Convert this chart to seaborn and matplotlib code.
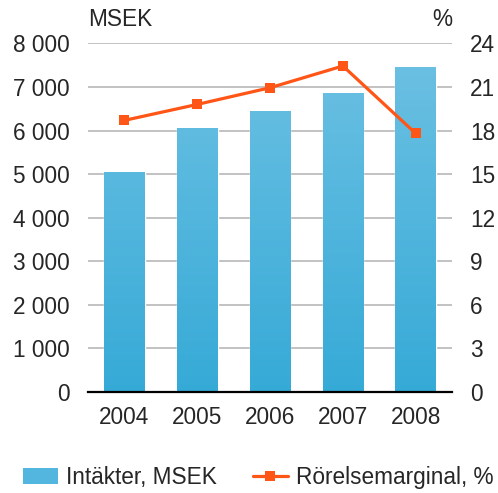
import numpy as np
import matplotlib
matplotlib.use('Agg')
import matplotlib.pyplot as plt
import seaborn as sns
from matplotlib.patches import Patch
from matplotlib.lines import Line2D
from matplotlib.colors import LinearSegmentedColormap

years = ['2004', '2005', '2006', '2007', '2008']
revenue = [5050, 6060, 6450, 6870, 7460]
margin = [18.7, 19.8, 20.95, 22.45, 17.8]

bar_top = '#6ec1e3'
bar_bottom = '#36aad7'
line_color = '#ff5516'

sns.set_style('white')
plt.rcParams['font.family'] = ['Liberation Sans', 'DejaVu Sans']
plt.rcParams['font.size'] = 16.3

fig = plt.figure(figsize=(4.98, 4.93), dpi=100)
ax = fig.add_axes([0.1767, 0.2055, 0.7312, 0.7063])

sns.barplot(x=years, y=revenue, color=bar_bottom, width=0.56, ax=ax, zorder=2)

# gradient fill clipped to each bar
cmap = LinearSegmentedColormap.from_list('bars', [bar_bottom, bar_top])
grad = np.linspace(0, 1, 256).reshape(-1, 1)
for p in ax.patches:
    x0 = p.get_x()
    w = p.get_width()
    im = ax.imshow(grad, cmap=cmap, origin='lower', aspect='auto',
                   extent=[x0, x0 + w, 0, 8000], zorder=2.5)
    im.set_clip_path(p)

ax.set_xlim(-0.5, 4.5)
ax.set_ylim(0, 8000)
ax.set_yticks(range(0, 8001, 1000))
ax.set_yticklabels([f'{v:,}'.replace(',', ' ') for v in range(0, 8001, 1000)])
ax.yaxis.grid(True, color='#bdbdbd', linewidth=1.3, zorder=0)
ax.set_axisbelow(True)
ax.set_xlabel('')
ax.set_ylabel('')
for s in ['top', 'left', 'right']:
    ax.spines[s].set_visible(False)
ax.spines['bottom'].set_color('black')
ax.spines['bottom'].set_linewidth(1.6)
ax.spines['bottom'].set_zorder(5)
ax.tick_params(axis='y', length=0, pad=13)
ax.tick_params(axis='x', length=0, pad=10)

ax2 = ax.twinx()
sns.lineplot(x=np.arange(len(years)), y=margin, color=line_color, linewidth=2.3,
             marker='s', markersize=7, markeredgewidth=0, ax=ax2, zorder=4)
ax2.set_ylim(0, 24)
ax2.set_yticks(range(0, 25, 3))
for s in ['top', 'left', 'right', 'bottom']:
    ax2.spines[s].set_visible(False)
ax2.tick_params(axis='y', length=0, pad=13)
ax2.set_ylabel('')
ax2.grid(False)

fig.text(0.1767, 0.96, 'MSEK', ha='left', va='center')
fig.text(0.908, 0.96, '%', ha='right', va='center')

handles = [Patch(facecolor='#52b6df', edgecolor='none'),
           Line2D([0], [0], color=line_color, linewidth=2.3, marker='s',
                  markersize=7, markeredgewidth=0)]
fig.legend(handles, ['Intäkter, MSEK', 'Rörelsemarginal, %'], loc='center',
           bbox_to_anchor=(0.518, 0.032), ncol=2, frameon=False,
           handlelength=1.55, handletextpad=0.35, columnspacing=1.6)

fig.savefig('out.png', dpi=100)
